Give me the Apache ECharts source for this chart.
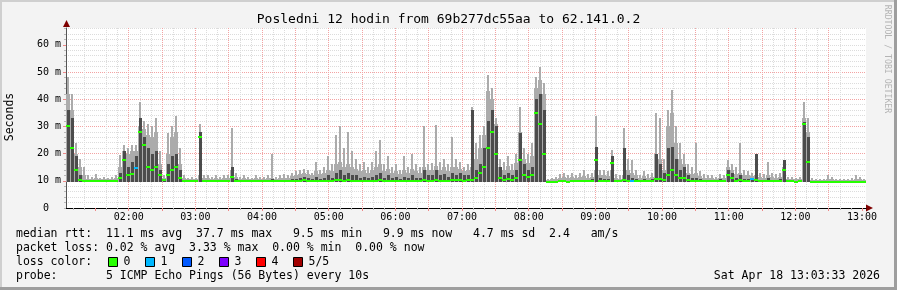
<!DOCTYPE html>
<html><head><meta charset="utf-8">
<script src="https://cdn.jsdelivr.net/npm/echarts@6/dist/echarts.min.js"></script>
<style>html,body{margin:0;padding:0;background:#f3f3f3}#c{width:897px;height:290px}</style>
</head><body><div id="c"></div>
<script>
const title = 'Posledni 12 hodin from 69b277dc55aa to 62.141.0.2';
const hourLabels = ['02:00','03:00','04:00','05:00','06:00','07:00','08:00','09:00','10:00','11:00','12:00','13:00'];
const windowEnd = '13:03:33';
const windowHours = 12;
const yMax = 66.2;
const smokeFloor = 9.4;

// median rtt (ms), one value per ~3.6 min slot
const median = [
 30,22,14,10.2,9.9,9.8,9.8,9.9,9.8,9.8,
 9.8,9.8,9.9,11,17.6,12,12.5,14.7,28,23,
 15,14,15,12,10.3,12,14,15,11,9.9,
 9.8,9.8,9.8,26,9.9,9.8,9.8,9.8,9.9,9.8,
 9.8,11.4,9.9,9.8,9.8,9.8,9.8,9.8,9.8,9.8,
 9.8,9.9,9.8,9.8,9.9,9.8,9.9,10,10,10.2,
 10,9.9,10,9.9,10,10.1,10,10.2,10.3,10.1,
 10.2,10.1,10.1,10,10,10,10,10.1,10.2,10,
 10.1,10,10,9.9,10,10,10.1,10,10,10.2,
 10,10.1,10.2,10,10.1,10,10.2,10.2,10.3,10.1,
 10.2,10.3,11,13,15,22,28,20,11,10.3,
 10.5,10.3,11,17.6,12,11.5,12,35,31,20,
 9.7,9.7,9.7,9.8,9.8,9.7,9.8,9.8,9.8,9.8,
 9.8,9.9,17.6,9.9,9.9,9.9,16.5,9.8,9.8,10.2,
 10,10,9.9,9.8,9.9,9.8,9.9,10.5,10.8,10.2,
 12,14,12,11,11,10.3,10,10,9.9,9.8,
 9.8,9.8,9.8,9.9,9.8,12,11,10,10.2,9.9,
 9.9,10.5,10.3,9.8,9.8,10,9.8,9.8,9.9,14,
 9.8,9.8,9.7,9.8,31,17,9.7,9.7,9.6,9.6,
 9.7,9.6,9.7,9.6,9.7,9.6,9.7,9.6,9.7,9.6
];
// top of the dark (inner) smoke band
const smokeDark = [
 36,33,19,12,10.3,10,10,10,10,10,
 10,10,10.2,13,21,15,17,19,33,26,
 22,20,21,14,10.5,16,19,20,14,10.2,
 10,10,10,28,10.2,10,10,10,10.2,10,
 10,15,10.5,10,10,10,10,10,10,10,
 10,10.5,10,10,10.2,10,10.5,10.8,11,11.5,
 11,10.5,11.5,10.8,11,12,11,13,14,12,
 13,12,12,11,11.5,11,11.5,12,13,11,
 12,11,11.5,10.8,11.5,11,12,11,11,14,
 12,12,14,12,12.5,11.5,13,12,13,12,
 12,36,14,16,22,32,36,30,15,12,
 13,12,14,27.5,16,14,15,40,42,36,
 9.9,9.9,10,10,10.2,10,10.2,10,10.2,10.3,
 10.2,10.5,22.5,11,10.5,10.5,19,10,10,22,
 12,11,10.5,10,10.5,10.2,10.5,20,16,13,
 22,22.5,18,14,15,12,11,11,10.5,10.2,
 10.2,10.2,10,10.5,10.2,14,13,11,12,10.5,
 10.5,11,20,10.2,10.2,11,10.2,10.2,10.5,17.6,
 10,10,9.9,10,31.5,26,9.9,9.8,9.8,9.8,
 9.9,9.8,9.8,9.8,9.8,9.8,9.8,9.8,9.9,9.8
];
// typical top of the light smoke across the slot
const smokeBody = [
 42,36,20,15,12,10.8,10.6,11,10.6,10.8,
 10.6,10.8,11,15,21,20,21,21,30,29,
 27,26,28,16,11,20,26,28,16,11,
 10.6,10.8,10.6,12,11,11,10.8,11,10.8,11,
 11,14,11.5,10.8,11,10.8,10.6,11,10.8,10.8,
 11,11,10.8,11,11.2,11,11.8,12,12.5,12.8,
 12.5,12,13.5,12.5,13,14,13.5,16,17,15,
 16,15,14.5,13.5,14,13,14,15,16,13.5,
 14.5,13,13.5,12.5,14,13,14.5,13.5,13,15,
 14,14,15.5,14,15,13.5,15,15,14.5,13.5,
 14,15,18,22,27,43,40,31,15,14,
 15.5,14,16.5,28,18,16.5,19,44,47,42,
 10.4,10.5,10.8,11,11.3,11,11.3,11,11.3,11.8,
 11.2,11.5,14,12,12,11.8,14,11,10.8,12,
 14,13,12,11,11.8,11.2,11.5,20,18,14,
 30,35,24,18,16,13,12.5,13,11.8,11.2,
 11,11,10.8,11.2,11,15,14,12.5,13,12,
 12,11.8,12,11.5,11.2,12,11.5,11.2,11.5,15,
 10.8,10.8,10.5,10.8,33,28,10.4,10.3,10.3,10.2,
 10.8,10.6,10.3,10.2,10.3,10.2,10.4,10.8,10.6,10.3
];
// highest ping in the slot (thin spike)
const smokeLight = [
 48,42,24,18,15,12,11.5,12.5,11,11.5,
 11,11.5,12,19.5,23,22,23,23,39,32,
 31,30,33,21,12,27.5,30,34,22,12,
 11,11.5,11,31,12,12,11.5,12,11.5,12,
 12,29.5,13,11.5,12,11.5,11,12,11.5,11.5,
 12,20,11.5,12,12.5,12,13,13.5,14,14.5,
 14,13,17,14,15,19,16,27,30,22,
 28,21,18,16,17,15,17,21,25,16,
 19,15,16,14,19,15,20,16,15,30,
 16,16.5,30.5,17,18,16,26,18,17,15,
 16,37,24,27,30,49,44,33,18,17,
 19,16,20,37,22,20,24,48,52,46,
 10.8,11,11.5,12.5,13,12,13,12,13,14,
 12.5,13,34,14,14,13.5,21.3,12.5,12,29.4,
 18,17.6,14,12,13.5,12.5,13,35,33,18,
 36,43.4,30,24,20,16,15,24,13.5,12.5,
 12,12,11.5,12.5,12,17.6,16,15,24,14,
 13.5,13,20,13,12.5,17,13,12.5,13,17.6,
 11.5,11.5,11,11.5,39,33,11,10.8,10.8,10.5,
 12,11.5,10.8,10.5,10.8,10.5,11,12,11.5,10.8
];
const lossIdx = [17, 141, 171];
const lossVal = [1, 1, 1];
const lossColors = ['#26ff00','#00b8ff','#0059ff','#7e00ff','#ff0000','#a10000'];
const lossLabels = ['0','1','2','3','4','5/5'];
const legendLines = [
 'median rtt:  11.1 ms avg  37.7 ms max   9.5 ms min   9.9 ms now   4.7 ms sd  2.4   am/s',
 'packet loss: 0.02 % avg  3.33 % max  0.00 % min  0.00 % now',
 'loss color:',
 'probe:       5 ICMP Echo Pings (56 Bytes) every 10s'
];
const stamp = 'Sat Apr 18 13:03:33 2026';
const watermark = 'RRDTOOL / TOBI OETIKER';

function toMin(s){const p=s.split(':').map(Number);return p[0]*60+p[1]+(p[2]||0)/60;}
const tEnd = toMin(windowEnd), tStart = tEnd - windowHours*60;
const hourVals = hourLabels.map(toMin);
const majorVals = [], minorVals = [];
for (let m = Math.ceil(tStart/10)*10; m <= tEnd; m += 10) { if (m % 30 === 0) majorVals.push(m); else minorVals.push(m); }
const step = (tEnd - tStart) / median.length;
const loss = median.map(() => 0);
lossIdx.forEach((k, j) => { loss[k] = lossVal[j]; });
const data = median.map((m, i) => [tStart + (i + 0.5) * step, m, smokeDark[i], smokeBody[i], smokeLight[i], loss[i]]);

const MONO = '"DejaVu Sans Mono", monospace';
const GRIDC = '#dcdcdc', MGRIDC = '#f3a3a3';
const LIGHT = '#ababab', DARK = '#4c4c4c';

function xs(api, t){
  const a = Math.round(api.coord([t - step/2, 0])[0]);
  const b = Math.round(api.coord([t + step/2, 0])[0]);
  return [a, b];
}
function smokeItem(params, api){
  const t = api.value(0);
  const [xa, xb] = xs(api, t);
  const yf = Math.round(api.coord([t, smokeFloor])[1]);
  const yd = Math.round(api.coord([t, api.value(2)])[1]);
  const yb = Math.round(api.coord([t, api.value(3)])[1]);
  const yl = Math.round(api.coord([t, api.value(4)])[1]);
  return {type:'group', children:[
    {type:'rect', shape:{x:xa, y:yb, width:xb-xa, height:yf-yb}, style:{fill:LIGHT}},
    {type:'rect', shape:{x:xa+1, y:yl, width:2, height:yf-yl}, style:{fill:LIGHT}},
    {type:'rect', shape:{x:xa+1, y:yd, width:xb-xa-1, height:yf-yd}, style:{fill:DARK}}
  ]};
}
function medItem(params, api){
  const t = api.value(0);
  const [xa, xb] = xs(api, t);
  const y = Math.round(api.coord([t, api.value(1)])[1]);
  return {type:'rect', shape:{x:xa, y:y-1, width:xb-xa, height:2}, style:{fill:lossColors[api.value(5)]}};
}
function fmtHour(v){ const h = Math.floor(v/60), m = Math.round(v%60); return String(h).padStart(2,'0')+':'+String(m).padStart(2,'0'); }

const graphic = [
  {type:'rect', shape:{x:0,y:0,width:897,height:2}, style:{fill:'#cfcfcf'}, silent:true},
  {type:'rect', shape:{x:0,y:0,width:2,height:290}, style:{fill:'#cfcfcf'}, silent:true},
  {type:'rect', shape:{x:0,y:287,width:897,height:3}, style:{fill:'#9e9e9e'}, silent:true},
  {type:'rect', shape:{x:894,y:0,width:3,height:290}, style:{fill:'#9e9e9e'}, silent:true},
  {type:'polygon', shape:{points:[[866,204.5],[873,208],[866,211.5]]}, style:{fill:'#7f0000'}, silent:true},
  {type:'polygon', shape:{points:[[63,27],[66.5,20],[70,27]]}, style:{fill:'#7f0000'}, silent:true},
  {type:'text', x:448.5, y:19.5, style:{text:title, font:'13px '+MONO, fill:'#000', align:'center', verticalAlign:'middle'}, silent:true},
  {type:'text', x:10.5, y:117, rotation:Math.PI/2, style:{text:'Seconds', font:'11.5px '+MONO, fill:'#000', align:'center', verticalAlign:'middle'}, silent:true},
  {type:'text', x:887.5, y:59, rotation:-Math.PI/2, style:{text:watermark, font:'8.2px '+MONO, fill:'#b4b4b4', align:'center', verticalAlign:'middle'}, silent:true},
  {type:'text', x:880, y:276, style:{text:stamp, font:'11.5px '+MONO, fill:'#000', align:'right', verticalAlign:'middle'}, silent:true}
];
legendLines.forEach((s, k) => {
  graphic.push({type:'text', x:16, y:234.3 + k*14, style:{text:s, font:'11.5px '+MONO, fill:'#000', align:'left', verticalAlign:'middle'}, silent:true});
});
lossLabels.forEach((s, k) => {
  const bx = 108.5 + k*37;
  graphic.push({type:'rect', shape:{x:bx, y:257.5, width:9, height:9}, style:{fill:lossColors[k], stroke:'#000', lineWidth:1}, silent:true});
  graphic.push({type:'text', x:bx + 15, y:262.3, style:{text:s, font:'11.5px '+MONO, fill:'#000', align:'left', verticalAlign:'middle'}, silent:true});
});

const baseX = {type:'value', min:tStart, max:tEnd, gridIndex:0};
const chart = echarts.init(document.getElementById('c'), null, {renderer:'canvas', width:897, height:290});
chart.setOption({
  animation:false,
  backgroundColor:'#f3f3f3',
  grid:{left:66, top:28, width:800, height:180, show:true, backgroundColor:'#ffffff', borderWidth:0},
  xAxis:[
    Object.assign({}, baseX, {
      axisLine:{show:true, onZero:false, lineStyle:{color:'#000', width:1}},
      axisTick:{show:true, customValues:minorVals, length:2, lineStyle:{color:'#b8b8b8'}},
      axisLabel:{show:false},
      splitLine:{show:true, showMinLine:false, showMaxLine:false, lineStyle:{color:GRIDC, type:[1,1], width:1}}
    }),
    Object.assign({}, baseX, {
      position:'bottom',
      axisLine:{show:false, onZero:false},
      axisTick:{show:true, customValues:majorVals, length:3, lineStyle:{color:'#e88'}},
      axisLabel:{show:true, customValues:hourVals, formatter:fmtHour, margin:3, color:'#000', fontFamily:MONO, fontSize:10, lineHeight:12},
      splitLine:{show:true, showMinLine:false, showMaxLine:false, lineStyle:{color:MGRIDC, type:[1,1], width:1}}
    })
  ],
  yAxis:[
    {type:'value', min:0, max:yMax, interval:2,
      axisLine:{show:true, onZero:false, lineStyle:{color:'#555'}},
      axisTick:{show:true, length:2, lineStyle:{color:'#b8b8b8'}},
      axisLabel:{show:true, margin:5, color:'#000', fontFamily:MONO, fontSize:10,
        formatter:v => (v % 10 === 0 && v <= 60) ? (v === 0 ? '0  ' : v + ' m') : ''},
      splitLine:{show:true, showMinLine:false, showMaxLine:false, lineStyle:{color:GRIDC, type:[1,1], width:1}}
    },
    {type:'value', min:0, max:yMax, position:'left',
      axisLine:{show:false, onZero:false},
      axisTick:{show:true, customValues:[10,20,30,40,50,60], length:3, lineStyle:{color:'#e88'}},
      axisLabel:{show:false, customValues:[10,20,30,40,50,60]},
      splitLine:{show:true, showMinLine:false, showMaxLine:false, lineStyle:{color:MGRIDC, type:[1,1], width:1}}
    }
  ],
  graphic: graphic,
  series:[
    {type:'custom', name:'smoke', xAxisIndex:0, yAxisIndex:0, renderItem:smokeItem, data:data, encode:{x:0, y:[1,2,3,4]}, silent:true, z:3, clip:true},
    {type:'custom', name:'median', xAxisIndex:0, yAxisIndex:0, renderItem:medItem, data:data, encode:{x:0, y:1}, silent:true, z:4, clip:true}
  ]
});
</script></body></html>
